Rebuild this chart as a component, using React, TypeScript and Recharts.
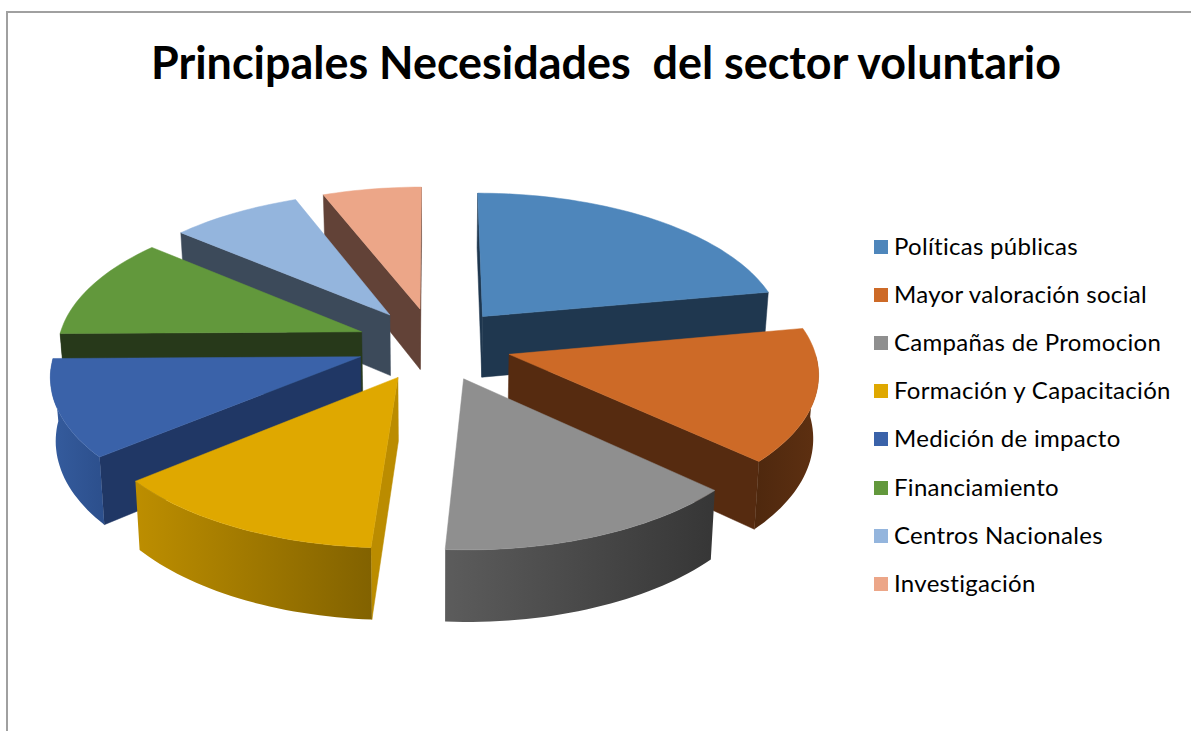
import React from "react";
import { PieChart, Pie, Legend } from "recharts";

const categories = [
  "Políticas públicas",
  "Mayor valoración social",
  "Campañas de Promocion",
  "Formación y Capacitación",
  "Medición de impacto",
  "Financiamiento",
  "Centros Nacionales",
  "Investigación",
];
const values = [22.1, 14.8, 14.1, 13.0, 10.8, 11.35, 7.9, 5.95];
const topColors = ["#4e86bb", "#cd6a27", "#8f8f8f", "#dfa800", "#3a62a9", "#62983c", "#94b5dd", "#eca688"];
const wallColors = ["#1f374f", "#562b10", "#3c3c3c", "#bb8c00", "#203765", "#27391a", "#3c4a5a", "#624237"];
const rimLeft = ["#1f374f", "#5e3011", "#5c5c5c", "#bd8e00", "#355c9e", "#27391a", "#3c4a5a", "#624237"];
const rimRight = ["#1f374f", "#4e280e", "#363636", "#826200", "#2c4f8c", "#27391a", "#3c4a5a", "#624237"];
const paintOrder = [7, 6, 0, 5, 1, 4, 3, 2];
const legendColors = ["#4e86bb", "#cd6a27", "#8f8f8f", "#dfa800", "#3a62a9", "#62983c", "#94b5dd", "#eca688"];

const data = categories.map((name, i) => ({ name, value: values[i] }));

const EXPLODE = 0.255;
const PERSPECTIVE = 0.113;
const FLATTEN = 0.471;
const DEPTH = 62;
const TAPER = 0.014;

const toPath = (pts: number[][]) => "M" + pts.map((p) => p[0].toFixed(1) + "," + p[1].toFixed(1)).join("L") + "Z";

const signedArea = (pts: number[][]) => {
  let a = 0;
  pts.forEach((p, i) => {
    const q = pts[(i + 1) % pts.length];
    a += p[0] * q[1] - q[0] * p[1];
  });
  return a / 2;
};

const makeShape = (index: number) => (props: any) => {
  if (props.name !== categories[index]) return <g />;
  const { cx, cy, outerRadius: R, startAngle, endAngle } = props;
  const a0 = 90 - startAngle;
  const a1 = 90 - endAngle;
  const mid = ((a0 + a1) / 2) * (Math.PI / 180);
  const ou = EXPLODE * Math.sin(mid);
  const ov = -EXPLODE * Math.cos(mid);
  const proj = (u: number, v: number, z: number) => {
    const s = 1 / (1 - PERSPECTIVE * v);
    return [cx + R * u * s * (1 - (TAPER * z) / DEPTH), cy + R * FLATTEN * v * s + z * s];
  };
  const rimPt = (deg: number, z: number) => {
    const t = (deg * Math.PI) / 180;
    return proj(ou + Math.sin(t), ov - Math.cos(t), z);
  };
  const arc = (from: number, to: number, z: number) => {
    const n = Math.max(2, Math.ceil(Math.abs(to - from) / 1.5));
    const out: number[][] = [];
    for (let k = 0; k <= n; k++) out.push(rimPt(from + ((to - from) * k) / n, z));
    return out;
  };
  const apexTop = proj(ou, ov, 0);
  const apexBot = proj(ou, ov, DEPTH);
  const topFace = [apexTop, ...arc(a0, a1, 0)];
  const wallA = [apexTop, rimPt(a0, 0), rimPt(a0, DEPTH), apexBot];
  const wallB = [apexTop, rimPt(a1, 0), rimPt(a1, DEPTH), apexBot];
  const visible = (w: number[][]) => signedArea(w) < 0;
  const r0 = Math.max(a0, 90);
  const r1 = Math.min(a1, 270);
  const rim = r1 > r0 ? [...arc(r0, r1, 0), ...arc(r1, r0, DEPTH)] : null;
  const gid = "rim" + index;
  return (
    <g>
      <defs>
        <linearGradient id={gid} x1="0" x2="1" y1="0" y2="0">
          <stop offset="0" stopColor={r0 < 180 && r1 <= 180 ? rimRight[index] : rimLeft[index]} />
          <stop offset="1" stopColor={r0 < 180 && r1 <= 180 ? rimLeft[index] : rimRight[index]} />
        </linearGradient>
      </defs>
      {visible(wallA) ? <path d={toPath(wallA)} fill={wallColors[index]} stroke={wallColors[index]} strokeWidth={0.5} /> : null}
      {!visible(wallB) ? <path d={toPath(wallB)} fill={wallColors[index]} stroke={wallColors[index]} strokeWidth={0.5} /> : null}
      {rim ? <path d={toPath(rim)} fill={`url(#${gid})`} /> : null}
      <path d={toPath(topFace)} fill={topColors[index]} stroke={topColors[index]} strokeWidth={0.5} />
    </g>
  );
};

const LegendBox = () => (
  <div style={{ fontFamily: "Lato", fontSize: 24, color: "#000", letterSpacing: 0.3 }}>
    {categories.map((c, i) => (
      <div key={c} style={{ position: "absolute", left: 874, top: 228 + i * 48.1, height: 36, lineHeight: "36px", whiteSpace: "nowrap" }}>
        <span style={{ position: "absolute", left: 0, top: 12, width: 14, height: 14, background: legendColors[i] }} />
        <span style={{ position: "absolute", left: 20, top: 0 }}>{c}</span>
      </div>
    ))}
  </div>
);

export default function App() {
  return (
    <div style={{ position: "absolute", left: 0, top: 0, width: 1191, height: 731, overflow: "hidden", background: "#fff" }}>
      <div style={{ position: "absolute", left: 6, top: 11, width: 1185, height: 720, borderLeft: "2px solid #a0a0a0", borderTop: "2px solid #a0a0a0", boxSizing: "border-box" }} />
      <div style={{ position: "absolute", left: 0, top: 32, width: 1212, textAlign: "center", fontFamily: "Lato", fontWeight: 700, fontSize: 44.9, lineHeight: "60px", whiteSpace: "pre", color: "#000" }}>
        {"Principales Necesidades  del sector voluntario"}
      </div>
      <PieChart width={1191} height={731} margin={{ top: 0, right: 0, bottom: 0, left: 0 }} style={{ position: "absolute", left: 0, top: 0 }}>
        {paintOrder.map((i) => (
          <Pie
            key={i}
            data={data}
            dataKey="value"
            nameKey="name"
            cx={434}
            cy={344}
            innerRadius={0}
            outerRadius={304}
            startAngle={90}
            endAngle={-270}
            stroke="none"
            isAnimationActive={false}
            legendType="none"
            shape={makeShape(i)}
            activeShape={makeShape(i)}
            inactiveShape={makeShape(i)}
          />
        ))}
        <Legend content={<LegendBox />} wrapperStyle={{ left: 0, top: 0, width: 0, height: 0 }} />
      </PieChart>
    </div>
  );
}
